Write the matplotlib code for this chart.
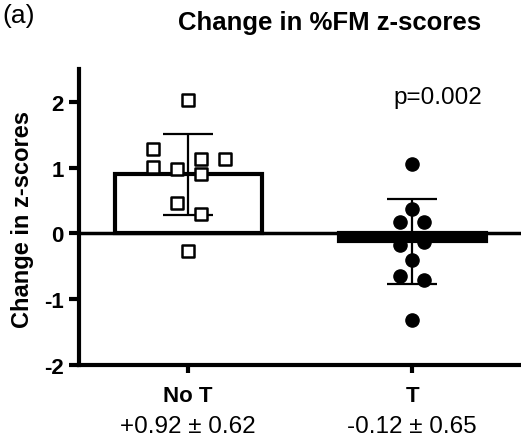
"""Change in %FM z-scores, No T vs T groups"""

import matplotlib.pyplot as plt

plt.rcParams['font.family'] = ['Liberation Sans', 'DejaVu Sans']

groups = ['No T', 'T']
means = [0.90, -0.12]
sds = [0.62, 0.65]
summary = ['+0.92 \u00b1 0.62', '-0.12 \u00b1 0.65']

no_t_offsets = [0.0, -0.156, -0.156, -0.05, 0.058, 0.058, 0.165, -0.05, 0.058, 0.0]
no_t_values = [2.03, 1.29, 1.01, 0.98, 1.13, 0.91, 1.14, 0.47, 0.30, -0.27]

t_offsets = [0.0, 0.0, -0.054, 0.054, -0.054, 0.054, 0.0, -0.054, 0.054, 0.0]
t_values = [1.06, 0.38, 0.17, 0.17, -0.17, -0.13, -0.40, -0.64, -0.70, -1.31]


def main():
    fig = plt.figure(figsize=(5.21, 4.39), dpi=100)
    ax = fig.add_axes([0.1516, 0.1663, 0.8484, 0.674])

    ax.bar([0], [means[0]], width=0.656, color='white', edgecolor='black',
           linewidth=3, zorder=2)
    ax.bar([1], [means[1]], width=0.656, color='black', edgecolor='black',
           linewidth=3, zorder=2)
    ax.axhline(0, color='black', linewidth=2.5, zorder=3)

    ax.errorbar([0, 1], means, yerr=sds, fmt='none', ecolor='black',
                elinewidth=1.6, capsize=18, capthick=1.6, zorder=4)

    ax.scatter([0 + o for o in no_t_offsets], no_t_values, marker='s', s=70,
               facecolor='white', edgecolor='black', linewidth=1.8, zorder=5)
    ax.scatter([1 + o for o in t_offsets], t_values, marker='o', s=90,
               color='black', zorder=5)

    ax.set_xlim(-0.487, 1.486)
    ax.set_ylim(-2, 2.5)
    ax.set_yticks([-2, -1, 0, 1, 2])
    ax.set_yticklabels(['-2', '-1', '0', '1', '2'], fontsize=16, fontweight='bold')
    ax.set_xticks([0, 1])
    ax.set_xticklabels(['', ''])
    ax.tick_params(axis='y', direction='out', length=7, width=3, pad=4)
    ax.tick_params(axis='x', direction='out', length=6, width=3)

    for side in ['top', 'right']:
        ax.spines[side].set_visible(False)
    for side in ['left', 'bottom']:
        ax.spines[side].set_linewidth(3)

    for i, name in enumerate(groups):
        ax.text(i, -2.55, name, ha='center', va='baseline', fontsize=16,
                fontweight='bold', clip_on=False)
        ax.text(i, -3.02, summary[i], ha='center', va='baseline', fontsize=17.5,
                clip_on=False)

    ax.text(1.116, 1.99, 'p=0.002', ha='center', va='baseline', fontsize=17.5)

    fig.text(0.044, 0.499, 'Change in z-scores', rotation=90, ha='center',
             va='center', fontsize=17, fontweight='bold')
    fig.text(0.632, 0.932, 'Change in %FM z-scores', ha='center', va='baseline',
             fontsize=18.5, fontweight='bold')
    fig.text(0.004, 0.948, '(a)', ha='left', va='baseline', fontsize=19)

    fig.savefig('out.png', dpi=100)


if __name__ == '__main__':
    main()
